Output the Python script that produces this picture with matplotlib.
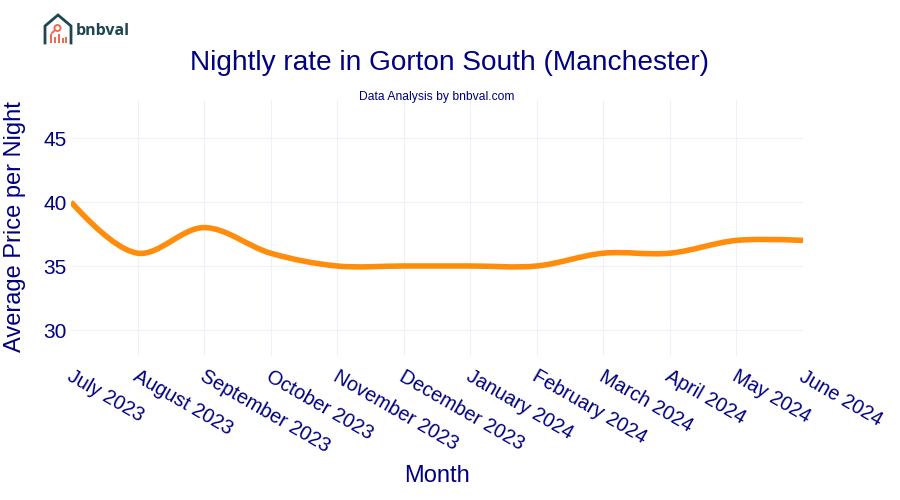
import matplotlib
matplotlib.use('Agg')
import matplotlib.pyplot as plt
from matplotlib.path import Path
from matplotlib.patches import PathPatch, Circle, Rectangle
from matplotlib.transforms import ScaledTranslation

plt.rcParams['font.family'] = ['Liberation Sans', 'DejaVu Sans']

months = ['July 2023', 'August 2023', 'September 2023', 'October 2023', 'November 2023',
          'December 2023', 'January 2024', 'February 2024', 'March 2024', 'April 2024',
          'May 2024', 'June 2024']
prices = [40, 36, 38, 36, 35, 35, 35, 35, 36, 36, 37, 37]
y_ticks = [30, 35, 40, 45]

NAVY = '#000080'
ORANGE = '#FF8C0A'
GRID = '#EDF1F9'
W, H = 900, 500


def tangent(p0, p1, p2):
    # same spline smoothing as the original chart, works on pixel distances
    d1x, d1y = p0[0] - p1[0], p0[1] - p1[1]
    d2x, d2y = p2[0] - p1[0], p2[1] - p1[1]
    d1a = (d1x * d1x + d1y * d1y) ** 0.25
    d2a = (d2x * d2x + d2y * d2y) ** 0.25
    numx = d2a * d2a * d1x - d1a * d1a * d2x
    numy = d2a * d2a * d1y - d1a * d1a * d2y
    den1 = 3 * d2a * (d1a + d2a)
    den2 = 3 * d1a * (d1a + d2a)
    return ((p1[0] + numx / den1, p1[1] + numy / den1),
            (p1[0] - numx / den2, p1[1] - numy / den2))


def smooth_path(ax, xs, ys):
    # build bezier path in display space, then go back to data coordinates
    pts = [tuple(p) for p in ax.transData.transform(list(zip(xs, ys)))]
    tans = [tangent(pts[i - 1], pts[i], pts[i + 1]) for i in range(1, len(pts) - 1)]
    verts = [pts[0], tans[0][0], pts[1]]
    codes = [Path.MOVETO, Path.CURVE3, Path.CURVE3]
    for i in range(2, len(pts) - 1):
        verts += [tans[i - 2][1], tans[i - 1][0], pts[i]]
        codes += [Path.CURVE4] * 3
    verts += [tans[-1][1], pts[-1]]
    codes += [Path.CURVE3] * 2
    return Path(ax.transData.inverted().transform(verts), codes)


fig = plt.figure(figsize=(9, 5), dpi=100)
ax = fig.add_axes([71 / W, 1 - 355.6 / H, (803 - 71) / W, (355.6 - 99.6) / H])

x = list(range(len(months)))
ax.set_xlim(0, len(months) - 1)
ax.set_ylim(28, 48)
ax.set_xticks(x)
ax.set_yticks(y_ticks)
ax.set_xticklabels(months, rotation=-30, ha='left', va='top', rotation_mode='anchor',
                   fontsize=14.2, color=NAVY)
ax.tick_params(axis='x', length=0, pad=8)
ax.tick_params(axis='y', length=0, pad=3, labelsize=15, labelcolor=NAVY)
ax.grid(True, color=GRID, linewidth=0.8)
ax.set_axisbelow(True)
for s in ax.spines.values():
    s.set_visible(False)

# the reference has no vertical grid line on the two outer months
gridlines = ax.xaxis.get_gridlines()
gridlines[0].set_visible(False)
gridlines[-1].set_visible(False)

# nudge month labels to the right
nudge = ScaledTranslation(2 / 100, 0, fig.dpi_scale_trans)
for label in ax.get_xticklabels():
    label.set_transform(label.get_transform() + nudge)

ax.add_patch(PathPatch(smooth_path(ax, x, prices), fill=False, edgecolor=ORANGE,
                       linewidth=4, capstyle='butt', joinstyle='round'))

fig.text(450 / W, 1 - 63 / H, 'Nightly rate in Gorton South (Manchester)', ha='center', va='center',
         fontsize=20.2, color=NAVY)
fig.text(437 / W, 1 - 97 / H, 'Data Analysis by bnbval.com', ha='center', va='center',
         fontsize=8.7, color=NAVY)
fig.text(15 / W, 1 - 227 / H, 'Average Price per Night', rotation=90, ha='center', va='center',
         fontsize=17, color=NAVY)
fig.text(437 / W, 1 - 476 / H, 'Month', ha='center', va='center', fontsize=17, color=NAVY)

# logo, drawn in pixel coordinates of the picture
logo = fig.add_axes([0, 0, 1, 1], facecolor='none')
logo.set_xlim(0, W)
logo.set_ylim(H, 0)
logo.axis('off')
DARK = '#1F4452'
RED = '#F26B50'
logo.plot([45, 45, 58, 71, 71], [43, 26, 15, 26, 43], color=DARK, lw=2, solid_joinstyle='miter')
for bx, bh in zip([49.5, 53.5, 57.5, 61.5, 65], [9, 6, 9, 5, 6]):
    logo.add_patch(Rectangle((bx, 43 - bh), 2.4, bh, color=RED, lw=0))
logo.add_patch(Circle((57.5, 28), 3, fill=False, edgecolor=RED, lw=1.4))
logo.plot([55, 52], [30, 33], color=RED, lw=1.4)
logo.text(75.5, 31, 'bnbval', ha='left', va='center', fontsize=11.5, fontweight='bold',
          color=DARK, family=['Open Sans', 'DejaVu Sans'])

fig.savefig('out.png', dpi=100)
